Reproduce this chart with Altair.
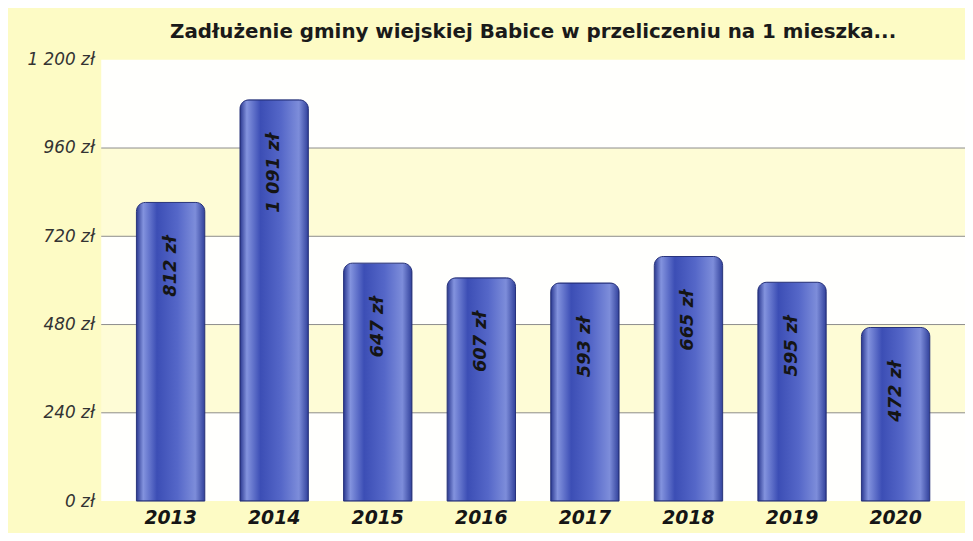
import altair as alt
import pandas as pd

years = ["2013", "2014", "2015", "2016", "2017", "2018", "2019", "2020"]
values = [812, 1091, 647, 607, 593, 665, 595, 472]

band_lo = [0, 240, 480, 720, 960]
band_hi = [240, 480, 720, 960, 1200]
band_col = ["#FFFFFD", "#FEFCD6", "#FFFFFD", "#FEFCD6", "#FFFFFD"]
grid_vals = [240, 480, 720, 960]
tick_vals = [0, 240, 480, 720, 960, 1200]

title_text = "Zadłużenie gminy wiejskiej Babice w przeliczeniu na 1 mieszka..."

df = pd.DataFrame({"rok": years, "val": values})
bands = pd.DataFrame({"lo": band_lo, "hi": band_hi, "c": band_col})
grid = pd.DataFrame({"g": grid_vals})

yscale = alt.Scale(domain=[0, 1200], nice=False, zero=True)

bg = alt.Chart(bands).mark_rect().encode(
    y=alt.Y("lo:Q", scale=yscale, axis=alt.Axis(
        values=tick_vals, grid=False, ticks=False, domain=False, title=None,
        labelExpr="replace(format(datum.value, ',d'), ',', ' ') + ' zł'",
        labelFont="DejaVu Sans", labelFontStyle="italic", labelFontSize=17,
        labelColor="#333333", labelPadding=7)),
    y2="hi:Q",
    color=alt.Color("c:N", scale=None),
)

rules = alt.Chart(grid).mark_rule(color="#8C8C8C", strokeWidth=1).encode(
    y=alt.Y("g:Q", scale=yscale)
)

xenc = alt.X("rok:N", sort=years, scale=alt.Scale(paddingInner=0.34, paddingOuter=0.34),
             axis=alt.Axis(title=None, labelAngle=0, ticks=False, domain=False,
                           labelFont="DejaVu Sans", labelFontWeight="bold",
                           labelFontStyle="italic", labelFontSize=19,
                           labelColor="#151515", labelPadding=8))

grad = alt.Gradient(
    gradient="linear",
    stops=[
        alt.GradientStop(color="#2A3890", offset=0.0),
        alt.GradientStop(color="#8393DE", offset=0.1),
        alt.GradientStop(color="#3C4EB5", offset=0.3),
        alt.GradientStop(color="#5567C8", offset=0.6),
        alt.GradientStop(color="#7D8DDA", offset=0.86),
        alt.GradientStop(color="#31419B", offset=1.0),
    ],
    x1=0, x2=1, y1=0, y2=0,
)

bars = alt.Chart(df).mark_bar(
    color=grad, stroke="#26327A", strokeWidth=1,
    cornerRadiusTopLeft=9, cornerRadiusTopRight=9,
).encode(
    x=xenc,
    y=alt.Y("val:Q", scale=yscale),
)

labels = alt.Chart(df).transform_calculate(
    lab="replace(format(datum.val, ',d'), ',', ' ') + ' zł'"
).mark_text(
    angle=270, align="right", baseline="middle", dx=-34,
    font="DejaVu Sans", fontWeight="bold", fontStyle="italic", fontSize=18,
    color="#151515",
).encode(
    x=alt.X("rok:N", sort=years),
    y=alt.Y("val:Q", scale=yscale),
    text="lab:N",
)

chart = alt.layer(bg, rules, bars, labels).properties(
    width=871, height=445,
    autosize=alt.AutoSizeParams(type="none"),
    padding={"left": 94, "top": 50, "right": 0, "bottom": 30},
    background="#FDFBC5",
    title=alt.TitleParams(title_text, font="DejaVu Sans", fontSize=20,
                          fontWeight="bold", color="#1A1A1A", anchor="middle",
                          baseline="bottom", offset=15, dy=26),
).configure_view(stroke=None)

chart.save("out.html", embed_options={"renderer": "svg", "actions": False})
